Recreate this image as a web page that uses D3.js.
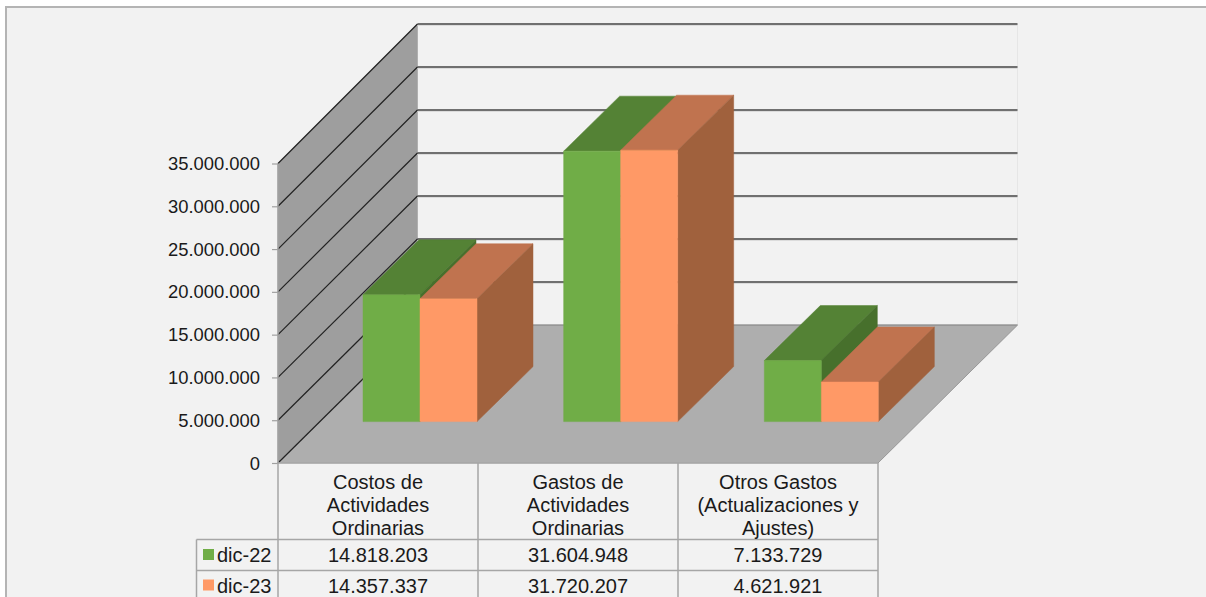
<!DOCTYPE html>
<html><head><meta charset="utf-8">
<script src="https://cdn.jsdelivr.net/npm/d3@7"></script>
<style>html,body{margin:0;padding:0;background:#fff;overflow:hidden}svg{display:block}text{font-family:"Liberation Sans",Arial,sans-serif;fill:#1a1a1a}</style>
</head><body><svg id="c" width="1206" height="597"></svg>
<script>
const categories = [["Costos de","Actividades","Ordinarias"],["Gastos de","Actividades","Ordinarias"],["Otros Gastos","(Actualizaciones y","Ajustes)"]];
const seriesNames = ["dic-22","dic-23"];
const dic22 = [14818203,31604948,7133729];
const dic23 = [14357337,31720207,4621921];
const tickValues = [0,5000000,10000000,15000000,20000000,25000000,30000000,35000000];
const frontColors = ["#70ad47","#ff9966"];
const topColors = ["#548235","#c0734f"];
const sideColors = ["#47702c","#a0613d"];

const svg = d3.select("#c");
const fmt = d3.formatLocale({decimal:",",thousands:".",grouping:[3],currency:["",""]}).format(",d");
const line = d3.line();
const poly = (pts,fill)=>svg.append("path").attr("d",line(pts)+"Z").attr("fill",fill).attr("stroke",fill).attr("stroke-width",0.5);

const y = d3.scaleLinear().domain([0,35000000]).range([463,163.5]);
const yBack = d3.scaleLinear().domain([0,35000000]).range([325,24]);
const x = d3.scaleBand().domain([0,1,2]).range([278,878]);
const xBar = d3.scaleBand().domain([0,1,2]).range([320,922]);
const inner = d3.scaleBand().domain([0,1]).range([43,157]);
const wallDx = 139.5;
const barBase = 421.6;
const barDx = 56, barDy = 55;

// panel
svg.append("rect").attr("x",6).attr("y",7).attr("width",1210).attr("height",600).attr("fill","#f2f2f2").attr("stroke","#b4b4b4").attr("stroke-width",2);

const x0 = x.range()[0], x1 = x.range()[1], y0 = y(0), maxTick = 35000000;
// floor
poly([[x0,y0],[x1,y0],[x1+wallDx,yBack(0)],[x0+wallDx,yBack(0)]],"#aeaeae");
// side wall
poly([[x0,y0],[x0+wallDx,yBack(0)],[x0+wallDx,yBack(maxTick)],[x0,y(maxTick)]],"#9e9e9e");
svg.append("line").attr("x1",x0+wallDx).attr("x2",x0+wallDx).attr("y1",yBack(maxTick)).attr("y2",yBack(0)).attr("stroke","#b0b0b0");
svg.append("line").attr("x1",x1+wallDx).attr("x2",x1+wallDx).attr("y1",yBack(maxTick)).attr("y2",yBack(0)).attr("stroke","#e6e6e6");

// gridlines
tickValues.forEach(v=>{
  svg.append("line").attr("x1",x0).attr("y1",y(v)).attr("x2",x0+wallDx).attr("y2",yBack(v)).attr("stroke","#222").attr("stroke-width",1.2);
  const yy=yBack(v);
  if(v>0){
    svg.append("line").attr("x1",x0+wallDx).attr("x2",x1+wallDx).attr("y1",yy+1.5).attr("y2",yy+1.5).attr("stroke","#dcdcdc").attr("stroke-width",1);
    svg.append("line").attr("x1",x0+wallDx).attr("x2",x1+wallDx).attr("y1",yy).attr("y2",yy).attr("stroke","#454545").attr("stroke-width",1.6);
  } else {
    svg.append("line").attr("x1",x0+wallDx).attr("x2",x1+wallDx).attr("y1",yy).attr("y2",yy).attr("stroke","#808080").attr("stroke-width",1.2);
  }
});
svg.append("path").attr("d",line([[x1,y0],[x1+wallDx,yBack(0)]])).attr("fill","none").attr("stroke","#9a9a9a").attr("stroke-width",1);

// bars
[dic22,dic23].forEach((vals,s)=>{
  vals.forEach((v,i)=>{
    const l = xBar(i)+inner(s), r = l+inner.bandwidth();
    const b = barBase, t = b-(y(0)-y(v));
    poly([[l,t],[r,t],[r+barDx,t-barDy],[l+barDx,t-barDy]],topColors[s]);
    poly([[r,t],[r+barDx,t-barDy],[r+barDx,b-barDy],[r,b]],sideColors[s]);
    poly([[l,t],[r,t],[r,b],[l,b]],frontColors[s]);
  });
});

// value axis
const axis = d3.axisLeft(y).tickValues(tickValues).tickFormat(fmt).tickSize(6).tickPadding(12);
const ag = svg.append("g").attr("transform",`translate(${x0},0)`).call(axis);
ag.select(".domain").attr("stroke","#a0a0a0").attr("stroke-width",1.5).attr("d",`M0,${y(maxTick)}V${y(0)}`);
ag.selectAll(".tick line").attr("stroke","#a0a0a0").attr("stroke-width",1.2);
ag.selectAll(".tick text").attr("font-size",18.4).attr("dy",null).attr("y",6).attr("text-anchor","end").attr("font-family",'"Liberation Sans",Arial,sans-serif').attr("fill","#1a1a1a");

// data table
const rowY = [539.5,570.5,601.5], tableLeft = 196.5;
const tg = svg.append("g").attr("stroke","#a6a6a6").attr("stroke-width",1.5);
tg.append("line").attr("x1",x0).attr("x2",x1).attr("y1",y0).attr("y2",y0);
[0,1,2,3].forEach(i=>{
  const xx = i<3 ? x(i) : x1;
  tg.append("line").attr("x1",xx).attr("x2",xx).attr("y1",y0).attr("y2",597);
});
tg.append("line").attr("x1",tableLeft).attr("x2",tableLeft).attr("y1",rowY[0]).attr("y2",597);
rowY.forEach(r=>tg.append("line").attr("x1",tableLeft).attr("x2",x1).attr("y1",r).attr("y2",r));

categories.forEach((lines,i)=>{
  const cx = x(i)+x.bandwidth()/2;
  lines.forEach((t,j)=>svg.append("text").attr("x",cx).attr("y",489+j*23).attr("text-anchor","middle").attr("font-size",20).text(t));
  [dic22,dic23].forEach((vals,s)=>svg.append("text").attr("x",cx).attr("y",562+s*30.5).attr("text-anchor","middle").attr("font-size",20).text(fmt(vals[i])));
});
seriesNames.forEach((n,s)=>{
  svg.append("rect").attr("x",203).attr("y",549+s*30.5).attr("width",11).attr("height",11).attr("fill",frontColors[s]);
  svg.append("text").attr("x",217).attr("y",562+s*30.5).attr("font-size",20).text(n);
});
</script></body></html>
